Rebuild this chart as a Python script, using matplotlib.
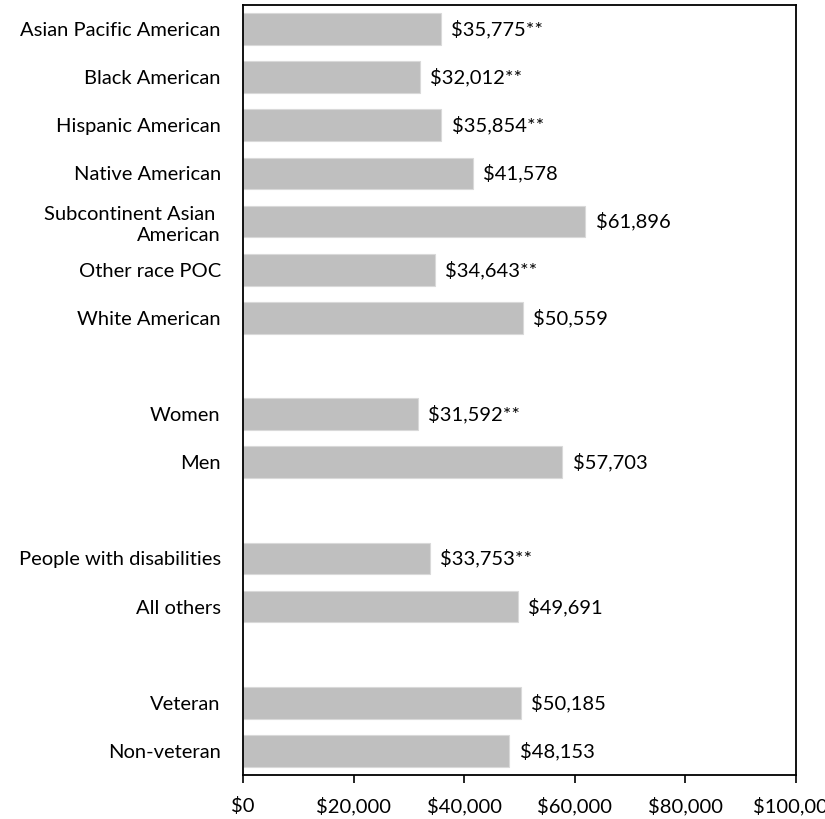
import matplotlib
matplotlib.use("Agg")
import matplotlib.pyplot as plt
from matplotlib.ticker import FuncFormatter

# Median earnings by group; None marks a spacer row between groups
categories = [
    "Asian Pacific American", "Black American", "Hispanic American",
    "Native American", "Subcontinent Asian \nAmerican", "Other race POC",
    "White American", None,
    "Women", "Men", None,
    "People with disabilities", "All others", None,
    "Veteran", "Non-veteran",
]
values = [
    35775, 32012, 35854, 41578, 61896, 34643, 50559, None,
    31592, 57703, None,
    33753, 49691, None,
    50185, 48153,
]
significant = [
    True, True, True, False, False, True, False, None,
    True, False, None,
    True, False, None,
    False, False,
]
x_ticks = [0, 20000, 40000, 60000, 80000, 100000]

plt.rcParams["font.family"] = ["Lato", "DejaVu Sans"]
FS = 14.5

fig = plt.figure(figsize=(8.25, 8.19), dpi=100)
ax = fig.add_axes([243 / 825, 1 - 775 / 819, (796 - 243) / 825, (775 - 5) / 819])

rows = [i for i, v in enumerate(values) if v is not None]
bar_vals = [values[i] for i in rows]
ax.barh(rows, bar_vals, height=0.66, color="#BFBFBF",
        edgecolor="#D9D9D9", linewidth=0.8, zorder=2)

for i in rows:
    label = f"${values[i]:,}" + ("**" if significant[i] else "")
    ax.annotate(label, (values[i], i), xytext=(7.5, 0), textcoords="offset points",
                va="center", ha="left", fontsize=FS, color="#000000")

ax.set_yticks(rows)
ax.set_yticklabels([categories[i] for i in rows], fontsize=FS,
                   multialignment="right", linespacing=1.3)
ax.tick_params(axis="y", length=0, pad=16)
ax.set_ylim(15.5, -0.5)

ax.set_xlim(0, 100000)
ax.set_xticks(x_ticks)
ax.xaxis.set_major_formatter(FuncFormatter(lambda v, p: f"${v:,.0f}"))
ax.tick_params(axis="x", length=6, width=1.2, direction="out", pad=10,
               labelsize=FS, color="#000000")

for side in ["left", "right", "top", "bottom"]:
    ax.spines[side].set_color("#000000")
    ax.spines[side].set_linewidth(1.3)

fig.savefig("out.png", dpi=100)
